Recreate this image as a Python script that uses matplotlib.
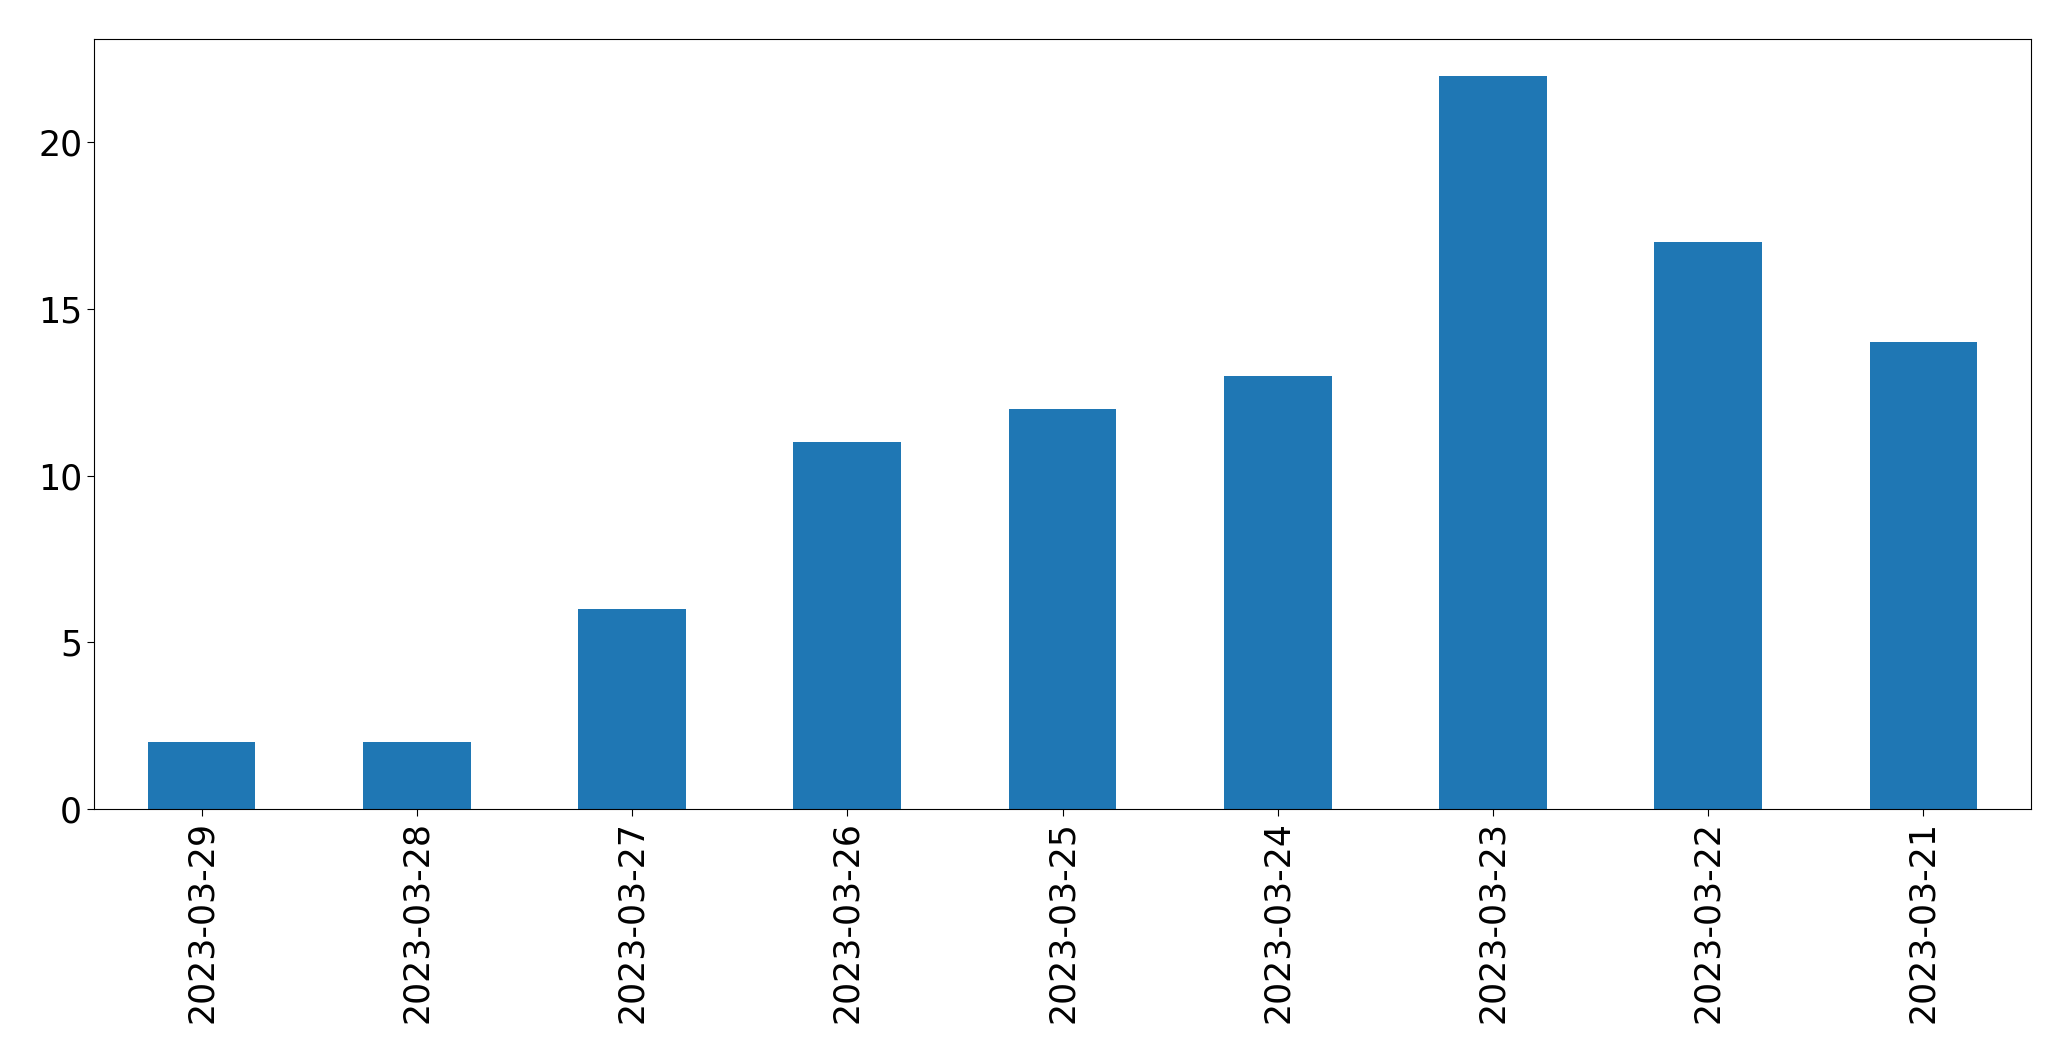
import matplotlib
matplotlib.use("Agg")
import matplotlib.pyplot as plt

dates = ["2023-03-29", "2023-03-28", "2023-03-27", "2023-03-26", "2023-03-25",
         "2023-03-24", "2023-03-23", "2023-03-22", "2023-03-21"]
counts = [2, 2, 6, 11, 12, 13, 22, 17, 14]

fig = plt.figure(figsize=(20.71, 10.61), dpi=100)
ax = fig.add_axes([94 / 2071, (1061 - 809) / 1061, (2031 - 94) / 2071, (809 - 39) / 1061])

x = list(range(len(dates)))
ax.bar(x, counts, width=0.5, color="#1f77b4")
ax.set_xlim(-0.5, len(dates) - 0.5)
ax.set_ylim(0, max(counts) * 1.05)
ax.set_xticks(x)
ax.set_xticklabels(dates, rotation=90)
ax.set_yticks([0, 5, 10, 15, 20])
ax.tick_params(labelsize=25, length=5)

fig.savefig("out.png", dpi=100)
